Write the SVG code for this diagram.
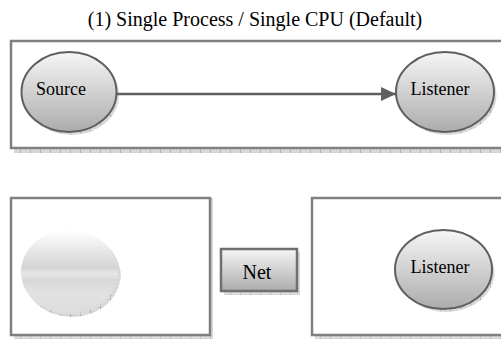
<svg xmlns="http://www.w3.org/2000/svg" width="501" height="340" viewBox="0 0 501 340">
<style>
.box{fill:#ffffff;stroke:#808080;stroke-width:2.5}
.node{stroke:#5f5f5f;stroke-width:2}
.lbl{font-family:"Liberation Serif","Times New Roman",serif;fill:#000;text-anchor:middle}
.shadow{fill:url(#hatch)}
</style>
<defs>
<pattern id="hatch" width="10" height="4" patternUnits="userSpaceOnUse">
<rect width="10" height="4" fill="#d6d6d6"/>
<rect x="0" y="0" width="1" height="4" fill="#b0b0b0"/>
<rect x="0" y="1" width="10" height="0.6" fill="#e8e8e8"/>
</pattern>
<linearGradient id="g" x1="0" y1="0" x2="0" y2="1">
<stop offset="0" stop-color="#f6f6f6"/>
<stop offset="1" stop-color="#acacac"/>
</linearGradient>
<linearGradient id="gfade" x1="0" y1="0" x2="0" y2="1">
<stop offset="0" stop-color="#ffffff"/>
<stop offset="0.45" stop-color="#d4d4d4"/>
<stop offset="0.52" stop-color="#e6e6e6"/>
<stop offset="0.6" stop-color="#d8d8d8"/>
<stop offset="0.75" stop-color="#e2e2e2"/>
<stop offset="1" stop-color="#dcdcdc"/>
</linearGradient>
<marker id="arr" markerWidth="15" markerHeight="14" refX="15" refY="7" orient="auto" markerUnits="userSpaceOnUse">
<path d="M0,0 L15,7 L0,14 Z" fill="#5f5f5f"/>
</marker>
</defs>

<g id="title">
<text class="lbl" x="255" y="26" font-size="20">(1) Single Process / Single CPU (Default)</text>
</g>

<g id="box-top">
<rect class="shadow" x="14" y="149" width="487" height="4"/>
<rect class="box" x="11" y="41" width="492" height="107"/>
</g>

<g id="source">
<ellipse class="shadow" cx="71.5" cy="95" rx="47.5" ry="40"/>
<ellipse class="node" cx="69" cy="92" rx="47.5" ry="40" fill="url(#g)"/>
<text class="lbl" x="61" y="95" font-size="18">Source</text>
</g>

<g id="listener-top">
<ellipse class="shadow" cx="447.5" cy="95" rx="49" ry="40"/>
<ellipse class="node" cx="445" cy="92" rx="49" ry="40" fill="url(#g)"/>
<text class="lbl" x="440" y="95" font-size="18">Listener</text>
</g>

<g id="box-left">
<rect class="shadow" x="14" y="198" width="199" height="141"/>
<rect class="box" x="11" y="198" width="199" height="137"/>
</g>

<g id="ghost">
<ellipse class="shadow" cx="72" cy="275" rx="48.5" ry="42"/>
<ellipse cx="69.5" cy="272" rx="48.5" ry="42" fill="url(#gfade)"/>
</g>

<g id="net">
<rect class="shadow" x="224" y="252" width="76" height="43"/>
<rect x="221" y="249" width="76" height="42" fill="url(#g)" stroke="#6f6f6f" stroke-width="2.5"/>
<text class="lbl" x="257" y="279" font-size="20">Net</text>
</g>

<g id="box-right">
<rect class="shadow" x="315" y="198" width="190" height="141"/>
<rect class="box" x="312" y="198" width="192" height="137"/>
</g>

<g id="listener-bottom">
<ellipse class="shadow" cx="446" cy="272.5" rx="48.5" ry="39.5"/>
<ellipse class="node" cx="443.5" cy="269.5" rx="48.5" ry="39.5" fill="url(#g)"/>
<text class="lbl" x="440" y="273" font-size="18">Listener</text>
</g>

<g id="connectors">
<line x1="117" y1="94" x2="396" y2="94" stroke="#5f5f5f" stroke-width="2.5" marker-end="url(#arr)"/>
</g>
</svg>
